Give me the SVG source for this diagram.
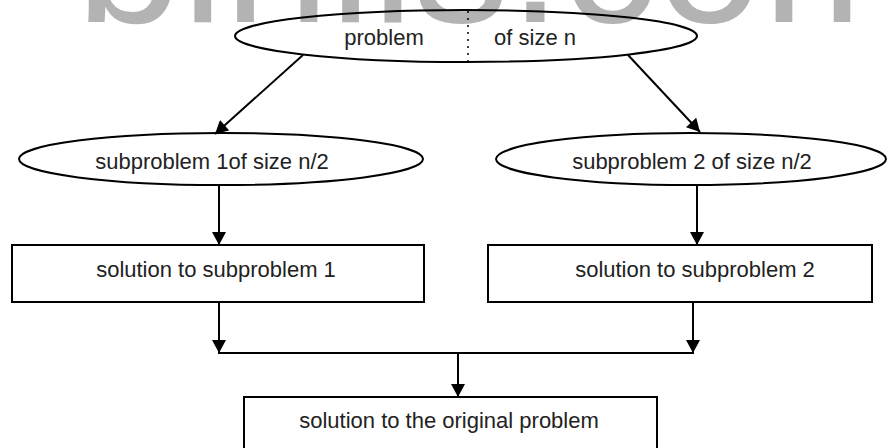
<svg xmlns="http://www.w3.org/2000/svg" width="888" height="448" viewBox="0 0 888 448">
  <style>
    .shape { fill: none; stroke: #000; stroke-width: 2; }
    .box { fill: #fff; stroke: #000; stroke-width: 2; }
    .label { font-family: "Liberation Sans", Arial, sans-serif; font-size: 22px; fill: #222; text-anchor: middle; }
    .wire { fill: none; stroke: #000; stroke-width: 2; }
    .watermark { font-family: "Liberation Sans", Arial, sans-serif; font-size: 190px; fill: #b3b3b3; }
  </style>
  <defs>
    <marker id="arrow" markerUnits="userSpaceOnUse" markerWidth="14" markerHeight="14" viewBox="0 0 13 14" refX="13" refY="7" orient="auto">
      <path d="M0,0 L13,7 L0,14 Z" fill="#000"/>
    </marker>
  </defs>

  <text class="watermark" x="76" y="22">binils.com</text>

  <g id="problem">
    <ellipse class="shape" cx="466" cy="36" rx="231" ry="26"/>
    <line x1="468" y1="11" x2="468" y2="62" stroke="#000" stroke-width="1.5" stroke-dasharray="2 5"/>
    <text class="label" x="384" y="45">problem</text>
    <text class="label" x="535" y="45">of size n</text>
  </g>

  <g id="subproblem1">
    <ellipse class="shape" cx="221" cy="159" rx="202" ry="26"/>
    <text class="label" x="212" y="169">subproblem 1of size n/2</text>
  </g>

  <g id="subproblem2">
    <ellipse class="shape" cx="691" cy="159" rx="195" ry="26"/>
    <text class="label" x="692" y="169">subproblem 2 of size n/2</text>
  </g>

  <g id="solution1">
    <rect class="box" x="12" y="245" width="412" height="57"/>
    <text class="label" x="216" y="277">solution to subproblem 1</text>
  </g>

  <g id="solution2">
    <rect class="box" x="488" y="245" width="384" height="57"/>
    <text class="label" x="695" y="277">solution to subproblem 2</text>
  </g>

  <g id="solution">
    <rect class="box" x="244" y="397" width="413" height="70"/>
    <text class="label" x="449" y="428">solution to the original problem</text>
  </g>

  <g id="connectors">
    <line class="wire" x1="303" y1="55" x2="215" y2="134" marker-end="url(#arrow)"/>
    <line class="wire" x1="628" y1="55" x2="700" y2="132" marker-end="url(#arrow)"/>
    <line class="wire" x1="219" y1="185" x2="219" y2="245" marker-end="url(#arrow)"/>
    <line class="wire" x1="697" y1="185" x2="697" y2="245" marker-end="url(#arrow)"/>
    <line class="wire" x1="219" y1="302" x2="219" y2="353" marker-end="url(#arrow)"/>
    <line class="wire" x1="693" y1="302" x2="693" y2="353" marker-end="url(#arrow)"/>
    <line class="wire" x1="218" y1="353" x2="694" y2="353"/>
    <line class="wire" x1="458" y1="353" x2="458" y2="397" marker-end="url(#arrow)"/>
  </g>
</svg>
